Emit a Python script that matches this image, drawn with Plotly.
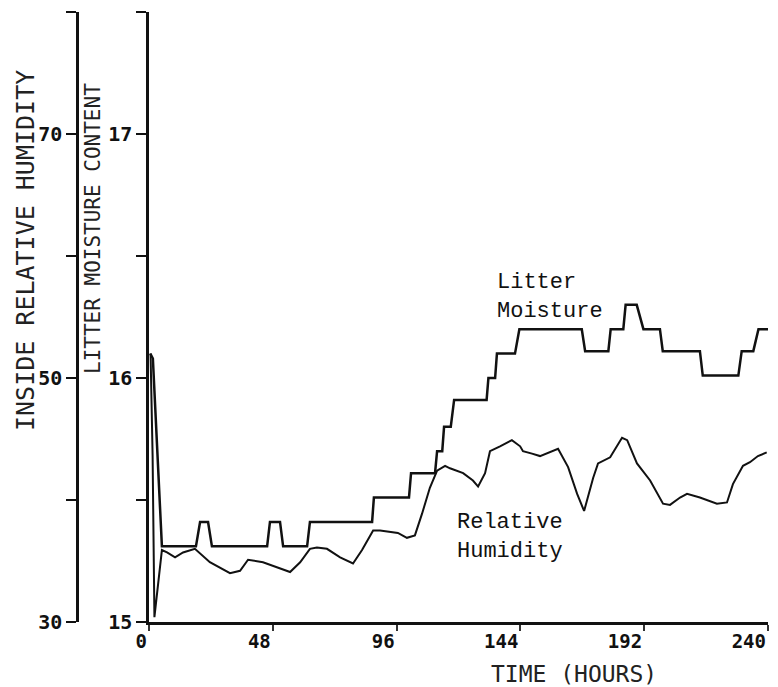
import plotly.graph_objects as go

# Litter moisture content (%), step-like record
litter_t = [0.5, 1.5, 5.0, 18.2, 19.8, 22.9, 24.4, 45.8, 46.9, 50.8, 52.0, 61.3, 62.4,
            86.5, 87.2, 100.8, 101.6, 110.9, 111.7, 113.7, 114.4, 117.0, 118.3,
            130.9, 131.6, 134.2, 134.9, 141.9, 143.6, 167.8, 169.1, 178.1, 179.0,
            183.9, 184.8, 189.1, 191.7, 198.1, 199.2, 213.6, 214.7, 228.5, 229.8,
            234.3, 236.3, 240.0]
litter_v = [16.10, 16.08, 15.31, 15.31, 15.41, 15.41, 15.31, 15.31, 15.41, 15.41, 15.31, 15.31, 15.41,
            15.41, 15.51, 15.51, 15.61, 15.61, 15.70, 15.70, 15.80, 15.80, 15.91,
            15.91, 16.00, 16.00, 16.10, 16.10, 16.20, 16.20, 16.11, 16.11, 16.20,
            16.20, 16.30, 16.30, 16.20, 16.20, 16.11, 16.11, 16.01, 16.01, 16.11,
            16.11, 16.20, 16.20]

# Inside relative humidity (%)
rh_t = [0.6, 1.4, 2.1, 3.7, 5.0, 7.0, 10.1, 13.2, 17.8, 23.6, 31.4, 35.3, 38.4, 44.2,
        49.6, 54.7, 58.6, 62.4, 65.1, 69.0, 74.1, 77.9, 79.1, 82.6, 86.9, 89.6, 96.5,
        100.0, 103.1, 105.9, 108.9, 111.7, 114.8, 116.7, 121.8, 125.6, 127.6, 130.3,
        132.2, 136.1, 140.7, 143.9, 145.0, 148.5, 151.6, 158.6, 162.5, 166.0, 168.7,
        172.2, 174.1, 178.8, 183.4, 185.4, 189.2, 194.3, 199.3, 202.0, 205.9, 208.6,
        213.6, 220.2, 224.1, 226.4, 230.3, 233.0, 236.1, 239.5]
rh_v = [52.0, 43.6, 30.4, 33.4, 35.9, 35.7, 35.3, 35.7, 36.0, 34.9, 34.0, 34.2, 35.1, 34.9,
        34.5, 34.1, 34.9, 36.0, 36.1, 36.0, 35.3, 34.9, 34.8, 35.9, 37.5, 37.5, 37.3,
        36.9, 37.1, 38.9, 41.0, 42.4, 42.8, 42.6, 42.2, 41.6, 41.1, 42.2,
        44.0, 44.4, 44.9, 44.4, 44.0, 43.8, 43.6, 44.2, 42.7, 40.5, 39.1,
        41.8, 43.0, 43.5, 45.1, 44.9, 43.0, 41.6, 39.7, 39.6, 40.2, 40.5,
        40.2, 39.7, 39.8, 41.3, 42.8, 43.1, 43.6, 43.9]

x_ticks = [0, 48, 96, 144, 192, 240]
lm_ticks = [15, 15.5, 16, 16.5, 17, 17.5]
lm_text = ["15", "", "16", "", "17", ""]
rh_ticks = [30, 40, 50, 60, 70, 80]
rh_text = ["30", "", "50", "", "70", ""]

tick_font = dict(family="DejaVu Sans Mono", size=20, color="#111", weight="bold")
xtick_font = dict(family="DejaVu Sans Mono", size=19, color="#111", weight="bold")
label_font = dict(family="Liberation Mono", size=22, color="#111")
title_font = dict(family="DejaVu Sans Mono", color="#222")

fig = go.Figure()
fig.add_trace(go.Scatter(x=litter_t, y=litter_v, mode="lines",
                         line=dict(color="#111", width=2.5), yaxis="y", showlegend=False))
fig.add_trace(go.Scatter(x=rh_t, y=rh_v, mode="lines",
                         line=dict(color="#111", width=2), yaxis="y2", showlegend=False))

L, R, T, B = 10, 10, 12, 65
W, H = 778, 687
pw = W - L - R
ph = H - T - B

def px_to_paper_x(px):
    return (px - L) / pw

def py_to_paper_y(py):
    return (H - B - py) / ph

fig.update_layout(
    width=W, height=H,
    margin=dict(l=L, r=R, t=T, b=B, autoexpand=False),
    paper_bgcolor="white", plot_bgcolor="white",
    xaxis=dict(domain=[px_to_paper_x(149), 1.0], range=[0, 240], automargin=False,
               tickvals=x_ticks, ticktext=[str(v) for v in x_ticks],
               ticks="outside", ticklen=6, tickwidth=1.5, tickcolor="#333",
               ticklabelposition="outside left",
               showline=True, linecolor="#111", linewidth=2.5,
               showgrid=False, zeroline=False, tickfont=xtick_font),
    yaxis=dict(range=[15, 17.5], tickvals=lm_ticks, ticktext=lm_text, automargin=False,
               ticks="outside", ticklen=10, tickwidth=2, tickcolor="#111",
               showline=True, linecolor="#111", linewidth=2.5,
               showgrid=False, zeroline=False, tickfont=tick_font),
    yaxis2=dict(range=[30, 80], tickvals=rh_ticks, ticktext=rh_text, automargin=False,
                overlaying="y", anchor="free", position=px_to_paper_x(77), side="left",
                ticks="outside", ticklen=10, tickwidth=2, tickcolor="#111",
                showline=True, linecolor="#111", linewidth=2.5,
                showgrid=False, zeroline=False, tickfont=tick_font),
)

annotations = [
    dict(text="INSIDE RELATIVE HUMIDITY", xref="paper", yref="paper",
         x=px_to_paper_x(25), y=py_to_paper_y(251), textangle=-90,
         showarrow=False, font=dict(size=25, **title_font),
         xanchor="center", yanchor="middle"),
    dict(text="LITTER MOISTURE CONTENT", xref="paper", yref="paper",
         x=px_to_paper_x(93), y=py_to_paper_y(229), textangle=-90,
         showarrow=False, font=dict(size=21, **title_font),
         xanchor="center", yanchor="middle"),
    dict(text="TIME (HOURS)", xref="paper", yref="paper",
         x=px_to_paper_x(574), y=py_to_paper_y(674),
         showarrow=False, font=dict(size=23, **title_font),
         xanchor="center", yanchor="middle"),
    dict(text="Litter<br>Moisture", xref="x", yref="y", x=134.2, y=16.33,
         showarrow=False, font=label_font, align="left",
         xanchor="left", yanchor="middle"),
    dict(text="Relative<br>Humidity", xref="x", yref="y", x=118.6, y=15.35,
         showarrow=False, font=label_font, align="left",
         xanchor="left", yanchor="middle"),
]
fig.update_layout(annotations=annotations)

fig.write_html("out.html")
